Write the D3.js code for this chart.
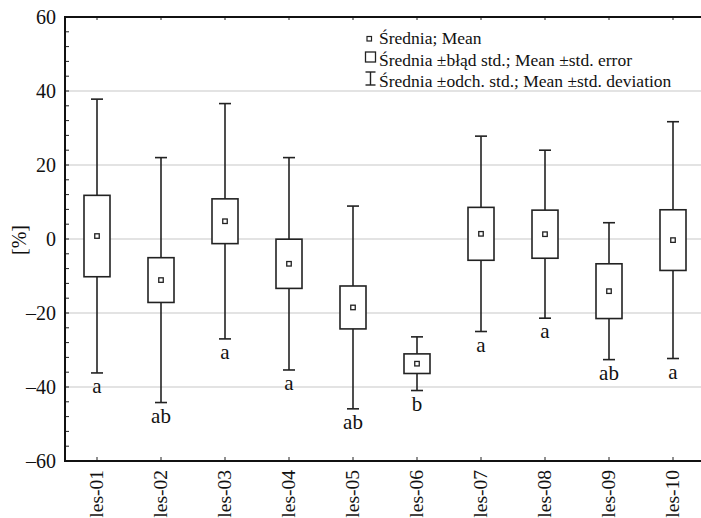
<!DOCTYPE html>
<html>
<head>
<meta charset="utf-8">
<script src="https://cdn.jsdelivr.net/npm/d3@7"></script>
<style>
    body { margin: 0; background: #fff; }
    svg { display: block; }
</style>
</head>
<body>
<div id="chart"></div>
<script>
// values
const sites = ["les-01", "les-02", "les-03", "les-04", "les-05", "les-06", "les-07", "les-08", "les-09", "les-10"];
const means = [0.8, -11.1, 4.8, -6.7, -18.5, -33.7, 1.4, 1.3, -14.1, -0.3];
const stdErr = [11.0, 6.05, 6.05, 6.65, 5.8, 2.65, 7.15, 6.5, 7.4, 8.2];
const stdDev = [37.0, 33.1, 31.8, 28.7, 27.4, 7.25, 26.4, 22.7, 18.5, 32.0];
const groups = ["a", "ab", "a", "a", "ab", "b", "a", "a", "ab", "a"];
const yTicks = [-60, -40, -20, 0, 20, 40, 60];
const legendItems = [
    "Średnia; Mean",
    "Średnia ±błąd std.; Mean ±std. error",
    "Średnia ±odch. std.; Mean ±std. deviation"
];

const W = 701, H = 518;
const serif = "Liberation Serif";
const margin = { top: 17, right: -4, bottom: 57, left: 65 };
const width = W - margin.left - margin.right;
const height = H - margin.top - margin.bottom;

const svg = d3.select("#chart").append("svg")
    .attr("width", W)
    .attr("height", H)
    .attr("font-family", serif);

const g = svg.append("g")
    .attr("transform", `translate(${margin.left},${margin.top})`);

const x = d3.scaleBand().domain(sites).range([0, width]);
const y = d3.scaleLinear().domain([-60, 60]).range([height, 0]);

const data = sites.map((s, i) => ({
    site: s, mean: means[i], se: stdErr[i], sd: stdDev[i], group: groups[i]
}));

// gridlines
g.selectAll(".grid")
    .data(yTicks.filter(t => t > -60 && t < 60))
    .join("line")
    .attr("x1", 0).attr("x2", width)
    .attr("y1", d => y(d)).attr("y2", d => y(d))
    .attr("stroke", "#c8c8c8").attr("stroke-width", 1.2);

// minor ticks on y axis (inside)
g.selectAll(".ytick")
    .data(d3.range(-60, 61, 4))
    .join("line")
    .attr("x1", 0).attr("x2", 4)
    .attr("y1", d => y(d)).attr("y2", d => y(d))
    .attr("stroke", "#222").attr("stroke-width", 1);

// y axis labels
const fmt = d => d < 0 ? "\u2013" + Math.abs(d) : String(d);
g.selectAll(".ylab")
    .data(yTicks)
    .join("text")
    .attr("x", -9)
    .attr("y", d => y(d))
    .attr("dy", "0.35em")
    .attr("text-anchor", "end")
    .attr("font-size", 20)
    .attr("fill", "#111")
    .text(fmt);

// x ticks top and bottom (inside)
sites.forEach(s => {
    const cx = x(s) + x.bandwidth() / 2;
    g.append("line").attr("x1", cx).attr("x2", cx).attr("y1", 0).attr("y2", 3)
        .attr("stroke", "#222").attr("stroke-width", 1);
    g.append("line").attr("x1", cx).attr("x2", cx).attr("y1", height).attr("y2", height - 4)
        .attr("stroke", "#222").attr("stroke-width", 1);
});

// x labels, rotated
g.selectAll(".xlab")
    .data(sites)
    .join("text")
    .attr("transform", d => `translate(${x(d) + x.bandwidth() / 2 + 6},${height + 9}) rotate(-90)`)
    .attr("text-anchor", "end")
    .attr("font-size", 19.5)
    .attr("fill", "#111")
    .text(d => d);

// frame
g.append("rect")
    .attr("x", 0).attr("y", 0)
    .attr("width", width).attr("height", height)
    .attr("fill", "none")
    .attr("stroke", "#111").attr("stroke-width", 2);

// y title
svg.append("text")
    .attr("transform", `translate(26,240) rotate(-90)`)
    .attr("text-anchor", "middle")
    .attr("font-size", 20)
    .attr("fill", "#111")
    .text("[%]");

// whiskers + boxes
const boxW = 26, capW = 12, meanS = 4.5;
const sw = 1.6;
const items = g.selectAll(".item")
    .data(data)
    .join("g")
    .attr("transform", d => `translate(${x(d.site) + x.bandwidth() / 2},0)`);

items.append("line")
    .attr("x1", 0).attr("x2", 0)
    .attr("y1", d => y(d.mean + d.sd)).attr("y2", d => y(d.mean - d.sd))
    .attr("stroke", "#222").attr("stroke-width", sw);

items.append("line")
    .attr("x1", -capW / 2).attr("x2", capW / 2)
    .attr("y1", d => y(d.mean + d.sd)).attr("y2", d => y(d.mean + d.sd))
    .attr("stroke", "#222").attr("stroke-width", sw);

items.append("line")
    .attr("x1", -capW / 2).attr("x2", capW / 2)
    .attr("y1", d => y(d.mean - d.sd)).attr("y2", d => y(d.mean - d.sd))
    .attr("stroke", "#222").attr("stroke-width", sw);

items.append("rect")
    .attr("x", -boxW / 2)
    .attr("y", d => y(d.mean + d.se))
    .attr("width", boxW)
    .attr("height", d => y(d.mean - d.se) - y(d.mean + d.se))
    .attr("fill", "#fff")
    .attr("stroke", "#222").attr("stroke-width", sw);

items.append("rect")
    .attr("x", -meanS / 2)
    .attr("y", d => y(d.mean) - meanS / 2)
    .attr("width", meanS).attr("height", meanS)
    .attr("fill", "#fff")
    .attr("stroke", "#222").attr("stroke-width", 1.3);

// group letters
items.append("text")
    .attr("x", 0)
    .attr("y", d => y(d.mean - d.sd) + 20)
    .attr("text-anchor", "middle")
    .attr("font-size", 21)
    .attr("fill", "#111")
    .text(d => d.group);

// legend
const leg = svg.append("g").attr("transform", "translate(369,0)");
const legY = [44, 65.5, 87];
legendItems.forEach((t, i) => {
    leg.append("text")
        .attr("x", 10).attr("y", legY[i])
        .attr("font-size", 17.5)
        .attr("fill", "#111")
        .text(t);
});
// mean marker
leg.append("rect").attr("x", -2).attr("y", 36.5).attr("width", 4.5).attr("height", 4.5)
    .attr("fill", "#fff").attr("stroke", "#222").attr("stroke-width", 1.2);
// box marker
leg.append("rect").attr("x", -3.5).attr("y", 52).attr("width", 10).attr("height", 10)
    .attr("fill", "#fff").attr("stroke", "#222").attr("stroke-width", 1.3);
// whisker marker
leg.append("line").attr("x1", 1.5).attr("x2", 1.5).attr("y1", 72).attr("y2", 85)
    .attr("stroke", "#222").attr("stroke-width", 1.4);
leg.append("line").attr("x1", -3.5).attr("x2", 6.5).attr("y1", 72).attr("y2", 72)
    .attr("stroke", "#222").attr("stroke-width", 1.4);
leg.append("line").attr("x1", -3.5).attr("x2", 6.5).attr("y1", 85).attr("y2", 85)
    .attr("stroke", "#222").attr("stroke-width", 1.4);
</script>
</body>
</html>
